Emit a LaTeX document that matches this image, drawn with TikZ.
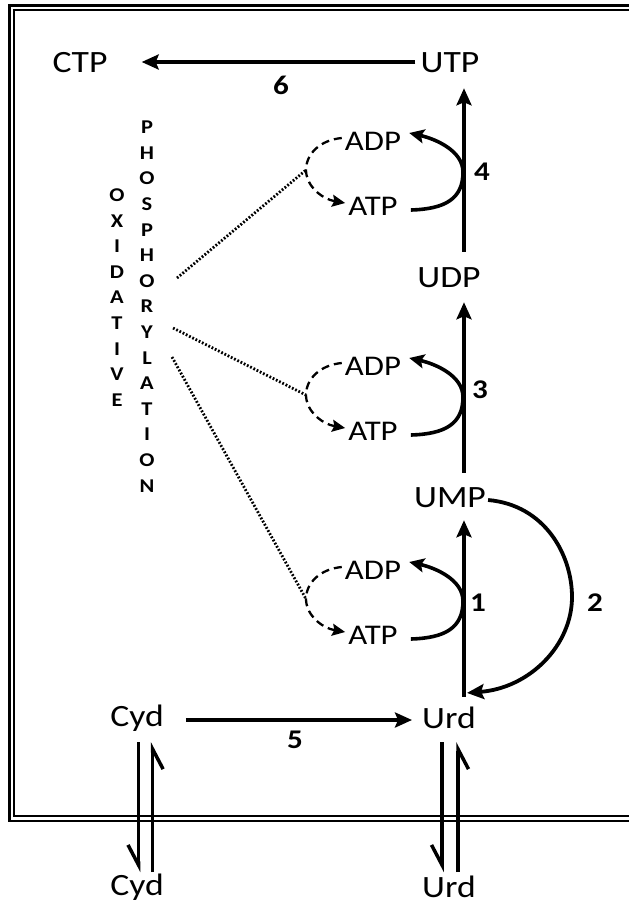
\documentclass[tikz,border=0pt]{standalone}
\usepackage{fontspec}
\setmainfont{Carlito}[FakeStretch=1.15]
\usetikzlibrary{arrows.meta,calc}
\begin{document}
\begin{tikzpicture}[x=1pt,y=-1pt,
  lbl/.style={font=\fontsize{31}{36}\selectfont, inner sep=0pt},
  sml/.style={font=\fontsize{28.5}{34}\selectfont, inner sep=0pt},
  num/.style={font=\bfseries\fontsize{27}{30}\selectfont, inner sep=0pt},
  vert/.style={font=\bfseries\fontsize{19.5}{25.6}\selectfont, align=center, inner sep=0pt},
  mainarr/.style={line width=3.8pt, -{Stealth[length=17pt,width=15pt,inset=3pt]}},
  looparr/.style={line width=3.6pt, -{Stealth[length=15pt,width=14pt,inset=3pt]}},
  dsharr/.style={line width=2.3pt, dash pattern=on 8pt off 5pt, -{Stealth[length=13pt,width=12pt,inset=2pt]}},
  dotline/.style={line width=2.8pt, dash pattern=on 1.8pt off 1.8pt},
  harp/.style={line width=3.5pt, -{Straight Barb[harpoon,swap,length=20pt,width=21pt]}},
]
\useasboundingbox (0,0) rectangle (629,911);
\clip (0,0) rectangle (629,911);

% frame
\draw[line width=2.7pt] (700,5.5) -- (9.7,5.5) -- (9.7,821) -- (700,821);
\draw[line width=2pt] (700,10) -- (14.3,10) -- (14.3,815.8) -- (700,815.8);

\coordinate (vl) at (464,0);

% main nodes
\node[lbl] (CTP) at (80,63) {CTP};
\node[lbl] (UTP) at (450,63) {UTP};
\node[lbl] (UDP) at (449,278) {UDP};
\node[lbl] (UMP) at (450,498) {UMP};
\node[lbl] (Urd) at (449,718) {Urd};
\node[lbl] (Cyd) at (137,718) {Cyd};
\node[lbl] (Cydo) at (137,887) {Cyd};
\node[lbl] (Urdo) at (449,887) {Urd};

% numbers
\node[num] (n6) at (281,85) {6};
\node[num] (n5) at (295,740) {5};
\node[num] (n4) at (482,172) {4};
\node[num] (n3) at (480,390) {3};
\node[num] (n1) at (478,603) {1};
\node[num] (n2) at (595,603) {2};

% vertical text
\node[vert] (oxi) at (117,297.5) {O\\X\\I\\D\\A\\T\\I\\V\\E};
\node[vert] (pho) at (147,306.5) {P\\H\\O\\S\\P\\H\\O\\R\\Y\\L\\A\\T\\I\\O\\N};

% main arrows
\draw[mainarr] ($(UTP.west)+(-5,-1)$) -- ($(CTP.east)+(34,-1)$);
\draw[mainarr] ($(UDP.north -| vl)+(0,-16)$) -- ($(UTP.south -| vl)+(0,15)$);
\draw[mainarr] ($(UMP.north -| vl)+(0,-15)$) -- ($(UDP.south -| vl)+(0,14)$);
\draw[mainarr] ($(Urd.north -| vl)+(0,-10)$) -- ($(UMP.south -| vl)+(0,12)$);
\draw[mainarr] ($(Cyd.east)+(22,2)$) -- ($(Urd.west)+(-10,2)$);
\draw[mainarr] ($(UMP.east)+(2,2)$) .. controls (545,505) and (572,555) .. (572,597)
   .. controls (572,645) and (530,688) .. ($(Urd.north -| vl)+(3,-14)$);

% loops
\foreach \a/\n in {141/4,366/3,570/1}{
  \begin{scope}[shift={(0,\a)}]
    \node[sml] (ADP\n) at (373,0) {ADP};
    \node[sml] (ATP\n) at (373,65) {ATP};
    \draw[looparr] ($(ATP\n.east)+(13,4)$) .. controls (445,68) and (463,58) .. (463,31)
       .. controls (463,10) and (436,-2) .. ($(ADP\n.east)+(8,-8)$);
    \draw[dsharr] ($(ADP\n.west)+(-3,-3)$) .. controls (320,-1) and (306,13) .. (306,29) coordinate (op\n)
       .. controls (306,45) and (322,58) .. ($(ATP\n.west)+(-3,-3)$);
  \end{scope}
}

% dotted links
\coordinate (d4) at (177,278);
\coordinate (d3) at (173,328);
\coordinate (d1) at (172,357);
\draw[dotline] (d4) -- (op4);
\draw[dotline] (d3) -- (op3);
\draw[dotline] (d1) -- (op1);

% transport harpoons
\draw[harp] ($(Cyd)+(1.5,24)$) -- ($(Cydo)+(1.5,-15)$);
\draw[harp] ($(Cydo)+(15.6,-15)$) -- ($(Cyd)+(15.6,24)$);
\draw[harp] ($(Urd)+(-7,24)$) -- ($(Urdo)+(-7,-15)$);
\draw[harp] ($(Urdo)+(9,-15)$) -- ($(Urd)+(9,24)$);
\end{tikzpicture}
\end{document}
